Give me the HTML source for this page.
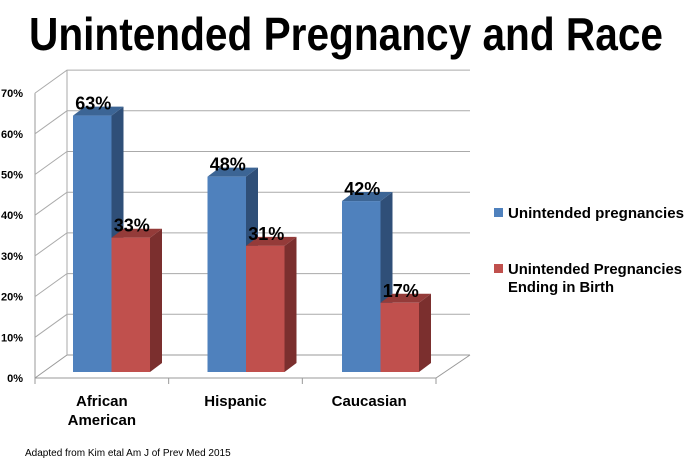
<!DOCTYPE html>
<html><head><meta charset="utf-8"><style>
body{margin:0;background:#fff;width:685px;height:462px;overflow:hidden;font-family:"Liberation Sans",sans-serif}
</style></head><body>
<svg id="c" width="685" height="462" xmlns="http://www.w3.org/2000/svg">
<text x="346" y="50" text-anchor="middle" font-size="46" font-weight="bold" fill="#000" textLength="634" lengthAdjust="spacingAndGlyphs">Unintended Pregnancy and Race</text>
<g id="grid"></g><g id="bars"></g>
<g>
<rect x="494" y="208" width="9" height="9" fill="#4f81bd"/>
<text x="508" y="218" font-size="15" font-weight="bold" textLength="176" lengthAdjust="spacingAndGlyphs">Unintended pregnancies</text>
<rect x="494" y="264" width="9" height="9" fill="#c0504d"/>
<text x="508" y="274" font-size="15" font-weight="bold" textLength="174" lengthAdjust="spacingAndGlyphs">Unintended Pregnancies</text>
<text x="508" y="292" font-size="15" font-weight="bold" textLength="106" lengthAdjust="spacingAndGlyphs">Ending in Birth</text>
</g>
<text x="25" y="456" font-size="10" fill="#000">Adapted from Kim etal Am J of Prev Med 2015</text>
</svg>
<script>
const categories=[["African","American"],["Hispanic"],["Caucasian"]];
const unintended=[63,48,42];
const birth=[33,31,17];
const ticks=[0,10,20,30,40,50,60,70];
const NS="http://www.w3.org/2000/svg";
function mk(t,a,p){const e=document.createElementNS(NS,t);for(const k in a)e.setAttribute(k,a[k]);p.appendChild(e);return e;}
const X0=35,X1=436,DX=32,DY=-23,Y0=378,PER=4.07;
function yF(v){return Y0-v*PER;}
const grid=document.getElementById('grid'),bars=document.getElementById('bars');
mk('line',{x1:X0,y1:yF(0),x2:X0,y2:yF(70),stroke:'#999'},grid);
ticks.forEach(t=>{
 const g=mk('polyline',{points:`${X0},${yF(t)} ${X0+DX},${yF(t)+DY} ${X1+DX+2},${yF(t)+DY}`,fill:'none',stroke:t===0?'#999':'#aaa','stroke-width':1},grid);
 
 
 const tx=mk('text',{x:23,y:yF(t)+4,'text-anchor':'end','font-size':11,'font-weight':'bold'},grid);
 tx.textContent=t+'%';
 
 
});
mk('line',{x1:X0+DX,y1:yF(0)+DY,x2:X0+DX,y2:yF(70)+DY,stroke:'#aaa'},grid);
mk('polyline',{points:`${X0},${Y0} ${X1},${Y0} ${X1+DX+2},${Y0+DY}`,fill:'none',stroke:'#999'},grid);
const GW=(X1-X0)/categories.length;
for(let i=0;i<=categories.length;i++)mk('line',{x1:X0+i*GW,y1:Y0,x2:X0+i*GW,y2:Y0+6,stroke:'#999'},grid);
const BW=38.5,BB=372,SD=12,SDY=-9;
function bar(x,v,front,side,top,name){
 const yt=BB-v*PER;
 const g=mk('g',{},bars);
 
 
 mk('polygon',{points:`${x+BW},${BB} ${x+BW+SD},${BB+SDY} ${x+BW+SD},${yt+SDY} ${x+BW},${yt}`,fill:side},g);
 mk('polygon',{points:`${x},${yt} ${x+SD},${yt+SDY} ${x+BW+SD},${yt+SDY} ${x+BW},${yt}`,fill:top},g);
 mk('rect',{x:x,y:yt,width:BW,height:BB-yt,fill:front},g);
 const t=mk('text',{x:x+BW/2+1,y:yt-6,'text-anchor':'middle','font-size':18,'font-weight':'bold'},g);
 t.textContent=v+'%';
 
 
}
categories.forEach((c,i)=>{
 const x=73+i*134.5;
 bar(x,unintended[i],'#4f81bd','#2f4f78','#3c6595','bar-unintended-'+i);
 bar(x+BW,birth[i],'#c0504d','#7b2f2e','#943b39','bar-birth-'+i);
 const cx=X0+GW*(i+0.5);
 c.forEach((l,j)=>{
  const t=mk('text',{x:cx,y:406+j*19,'text-anchor':'middle','font-size':15,'font-weight':'bold'},grid);
  t.textContent=l;
  
  
 });
});
</script>
</body></html>
